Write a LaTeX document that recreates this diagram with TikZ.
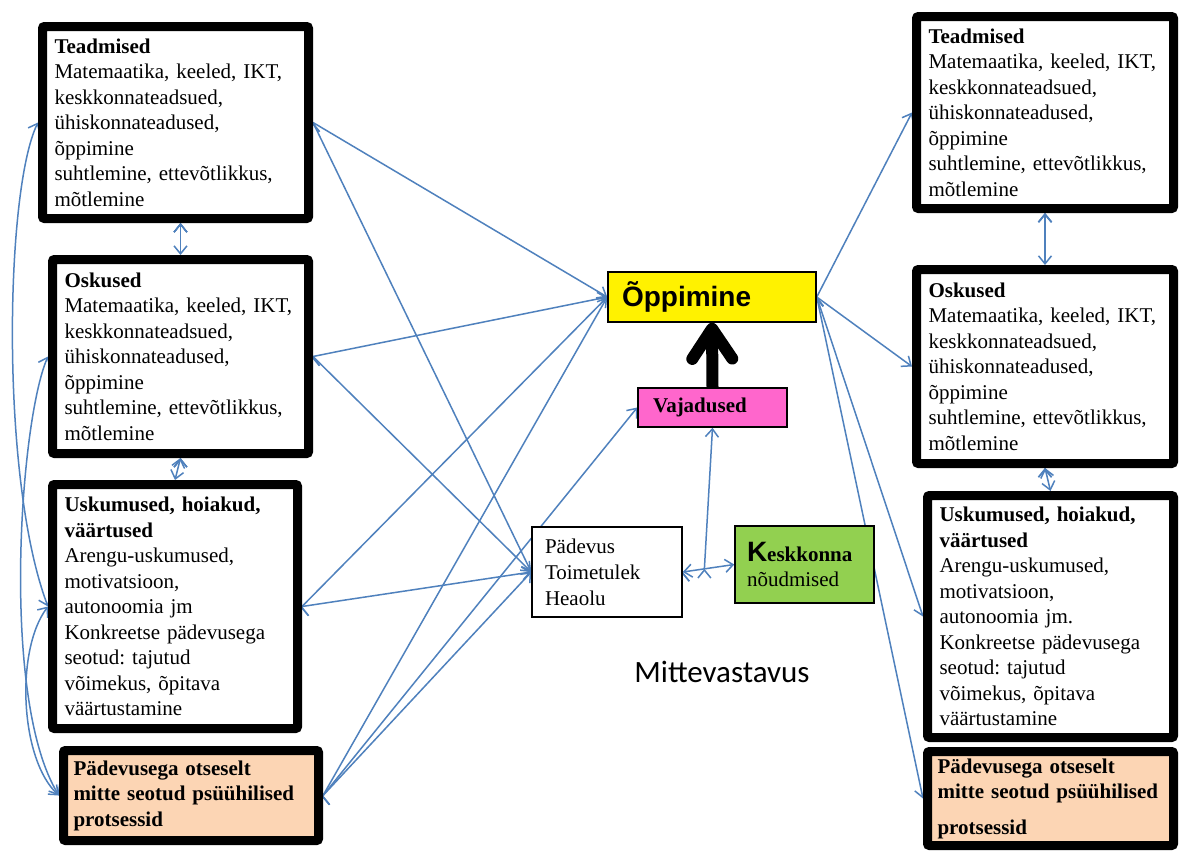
\documentclass[tikz,border=0pt]{standalone}
\usepackage{fontspec}
\setmainfont{Liberation Serif}
\newfontfamily\headfont{Liberation Sans}
\newfontfamily\notefont{Carlito}
\usetikzlibrary{arrows.meta,backgrounds,calc}
\definecolor{linkblue}{HTML}{4F81BD}
\definecolor{needpink}{HTML}{FF66CC}
\definecolor{envgreen}{HTML}{92D050}
\definecolor{procpeach}{HTML}{FCD5B4}
\frenchspacing

\begin{document}
\begin{tikzpicture}[x=0.5pt,y=-0.5pt,
    font=\fontsize{10.5}{12.75}\selectfont,
    >={Straight Barb[length=4pt,width=6.5pt]},
    link/.style={draw=linkblue,line width=0.75pt},
    thinbox/.style={draw,line width=0.75pt,align=left,inner ysep=2pt}]
\useasboundingbox (0,0) rectangle (1179,853);

% left column
\begin{scope}[every node/.style={draw,line width=4.5pt,fill=white,align=left,
    inner xsep=6pt,inner ysep=2pt,rounded corners=1pt}]
  \node[text width=121pt,minimum height=96pt] (T1) at (175.5,122.5)
    {\textbf{Teadmised}\\Matemaatika, keeled, IKT,\\keskkonnateadsued,\\ühiskonnateadused,\\õppimine\\suhtlemine, ettevõtlikkus,\\mõtlemine};
  \node[text width=116pt,minimum height=97pt] (O1) at (180.5,356.5)
    {\textbf{Oskused}\\Matemaatika, keeled, IKT,\\keskkonnateadsued,\\ühiskonnateadused,\\õppimine\\suhtlemine, ettevõtlikkus,\\mõtlemine};
  \node[text width=110.5pt,minimum height=122pt] (U1) at (175,606.5)
    {\textbf{Uskumused, hoiakud,}\\\textbf{väärtused}\\Arengu-uskumused,\\motivatsioon,\\autonoomia jm\\Konkreetse pädevusega\\seotud: tajutud\\võimekus, õpitava\\väärtustamine};
  \node[fill=procpeach,inner xsep=5pt,text width=117.5pt,minimum height=45pt] (P1) at (191,795.5)
    {\textbf{Pädevusega otseselt}\\\textbf{mitte seotud psüühilised}\\\textbf{protsessid}};
\end{scope}

% right column
\begin{scope}[every node/.style={draw,line width=4.5pt,fill=white,align=left,
    inner xsep=6pt,inner ysep=2pt,rounded corners=1pt}]
  \node[text width=116.5pt,minimum height=96pt] (T2) at (1045,112.5)
    {\textbf{Teadmised}\\Matemaatika, keeled, IKT,\\keskkonnateadsued,\\ühiskonnateadused,\\õppimine\\suhtlemine, ettevõtlikkus,\\mõtlemine};
  \node[text width=116.5pt,minimum height=97pt] (O2) at (1045,366.5)
    {\textbf{Oskused}\\Matemaatika, keeled, IKT,\\keskkonnateadsued,\\ühiskonnateadused,\\õppimine\\suhtlemine, ettevõtlikkus,\\mõtlemine};
  \node[text width=111pt,minimum height=121pt] (U2) at (1050.5,616.5)
    {\textbf{Uskumused, hoiakud,}\\\textbf{väärtused}\\Arengu-uskumused,\\motivatsioon,\\autonoomia jm.\\Konkreetse pädevusega\\seotud: tajutud\\võimekus, õpitava\\väärtustamine};
  \node[fill=procpeach,inner xsep=5pt,text width=113pt,minimum height=47pt] (P2) at (1050.5,798.5)
    {\textbf{Pädevusega otseselt}\\\textbf{mitte seotud psüühilised}\\[5pt]\textbf{protsessid}};
\end{scope}

% middle
\node[thinbox,fill=yellow,inner xsep=7pt,text width=90pt,minimum height=25pt,
  font=\headfont\bfseries\fontsize{14}{16}\selectfont] (Opp) at (712,297) {Õppimine};
\node[thinbox,fill=needpink,inner xsep=7.5pt,text width=59.5pt,minimum height=19.5pt,
  font=\bfseries\fontsize{10.5}{12.75}\selectfont] (Vaj) at (712.5,407.5) {Vajadused};
\node[thinbox,fill=white,inner xsep=6.5pt,text width=62pt,minimum height=45pt,
  font=\fontsize{10.5}{13}\selectfont] (Pad) at (607,572) {Pädevus\\Toimetulek\\Heaolu};
\node[thinbox,fill=envgreen,inner xsep=6pt,text width=57.5pt,minimum height=38.5pt] (Kes) at (804.5,564.5)
  {{\headfont\bfseries\fontsize{14}{14}\selectfont K}\textbf{eskkonna}\\nõudmised};
\node[font=\notefont\fontsize{15.5}{18}\selectfont] (Mit) at (722,672) {Mittevastavus};

\draw[line width=6pt,-{Straight Barb[round,length=15pt,width=20pt]}] (Vaj.north) -- (Opp.south);

\begin{pgfonlayer}{background}
  \fill[white] (0,0) rectangle (1179,853);
  \path [link,->] (T1.east) edge (Opp.west);
  \path [link,->] (T1.east) edge (Pad.west);
  \path [link,->] (O1.east) edge (Opp.west);
  \path [link,->] (O1.east) edge (Pad.west);
  \path [link,->] (U1.east) edge (Opp.west);
  \path [link,->] (U1.east) edge (Pad.west);
  \path [link,->] (P1.east) edge (Opp.west);
  \path [link,->] (P1.east) edge (Vaj.west);
  \path [link,->] (P1.east) edge (Pad.west);
  \path [link,->] (Opp.east) edge (T2.west);
  \path [link,->] (Opp.east) edge (O2.west);
  \path [link,->] (Opp.east) edge (U2.west);
  \path [link,->] (Opp.east) edge (P2.west);
  \path [link,<->] (T1.south -| O1.north) edge (O1.north);
  \path [link,<->] (O1.south) edge (U1.north);
  \path [link,<->] (T2.south) edge (O2.north);
  \path [link,<->] (O2.south) edge (U2.north);
  \path [link,<->] (Pad.east) edge (Kes.west);
  \coordinate (meet) at ($(Pad.east)!0.42!(Kes.west)$);
  \path [link,->] (meet) edge (Vaj.south);
  \draw [link,<->] (T1.west) .. controls (5,190) and (0,480) .. (U1.west);
  \draw [link,<->] (O1.west) .. controls (20,420) and (0,700) .. (P1.west);
  \draw [link,<->] (U1.west) .. controls (15,650) and (20,760) .. (P1.west);
\end{pgfonlayer}
\end{tikzpicture}
\end{document}
